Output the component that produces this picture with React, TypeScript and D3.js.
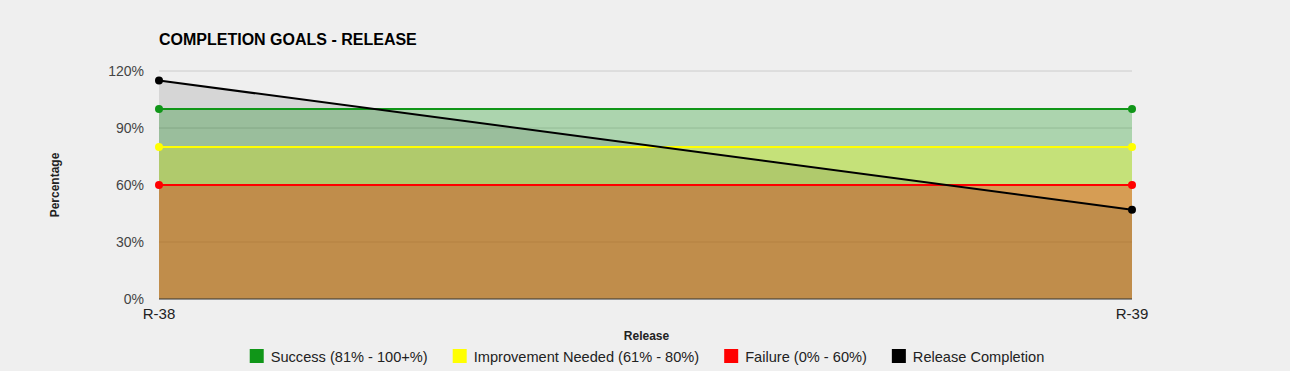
import React, { useRef, useEffect } from 'react';
import { select, scaleLinear, scalePoint, area, line } from 'd3';

const releases = ['R-38', 'R-39'];
const success = [100, 100];
const improvement = [80, 80];
const failure = [60, 60];
const completion = [115, 47];
const yTicks = [0, 30, 60, 90, 120];

const seriesNames = ['Success (81% - 100+%)', 'Improvement Needed (61% - 80%)', 'Failure (0% - 60%)', 'Release Completion'];
const seriesColors = ['#109618', '#ffff00', '#ff0000', '#000000'];
const seriesOpacity = [0.3, 0.3, 0.3, 0.1];

const W = 1290;
const H = 371;
const FONT = '"Liberation Sans", Arial, sans-serif';

function App() {
  const svgRef = useRef(null);

  useEffect(() => {
    document.body.style.margin = '0';
    document.body.style.background = '#efefef';

    const svg = select(svgRef.current);
    svg.selectAll('*').remove();

    const left = 159, right = 1132, top = 71, bottom = 299;

    const xScale = scalePoint().domain(releases).range([left, right]);
    const yScale = scaleLinear().domain([0, 120]).range([bottom, top]);

    // grid lines under everything
    svg.append('g')
      .selectAll('line')
      .data(yTicks.filter(t => t > 0))
      .join('line')
      .attr('x1', left).attr('x2', right)
      .attr('y1', d => yScale(d)).attr('y2', d => yScale(d))
      .attr('stroke', '#cccccc').attr('stroke-width', 1);

    const allSeries = [success, improvement, failure, completion];
    const rows = allSeries.map(vals => vals.map((v, i) => ({ x: releases[i], y: v })));

    const areaGen = area()
      .x(d => xScale(d.x))
      .y0(yScale(0))
      .y1(d => yScale(d.y));
    const lineGen = line()
      .x(d => xScale(d.x))
      .y(d => yScale(d.y));

    svg.append('g')
      .selectAll('path')
      .data(rows)
      .join('path')
      .attr('d', d => areaGen(d))
      .attr('fill', (d, i) => seriesColors[i])
      .attr('fill-opacity', (d, i) => seriesOpacity[i]);

    // baseline
    svg.append('line')
      .attr('x1', left).attr('x2', right)
      .attr('y1', yScale(0)).attr('y2', yScale(0))
      .attr('stroke', '#333333').attr('stroke-width', 1);

    rows.forEach((r, i) => {
      svg.append('path')
        .attr('d', lineGen(r))
        .attr('fill', 'none')
        .attr('stroke', seriesColors[i])
        .attr('stroke-width', 2);
    });
    rows.forEach((r, i) => {
      svg.append('g')
        .selectAll('circle')
        .data(r)
        .join('circle')
        .attr('cx', d => xScale(d.x))
        .attr('cy', d => yScale(d.y))
        .attr('r', 4)
        .attr('fill', seriesColors[i]);
    });

    // y tick labels
    svg.append('g')
      .selectAll('text')
      .data(yTicks)
      .join('text')
      .attr('x', left - 15)
      .attr('y', d => yScale(d))
      .attr('dy', '0.36em')
      .attr('text-anchor', 'end')
      .attr('font-family', FONT).attr('font-size', 14)
      .attr('fill', '#444444')
      .text(d => d + '%');

    // x tick labels
    svg.append('g')
      .selectAll('text')
      .data(releases)
      .join('text')
      .attr('x', d => xScale(d))
      .attr('y', 319)
      .attr('text-anchor', 'middle')
      .attr('font-family', FONT).attr('font-size', 15)
      .attr('fill', '#222222')
      .text(d => d);

    // title
    svg.append('text')
      .attr('x', left).attr('y', 45)
      .attr('font-family', FONT).attr('font-size', 16).attr('font-weight', 'bold')
      .attr('fill', '#000000')
      .text('COMPLETION GOALS - RELEASE');

    // axis titles
    svg.append('text')
      .attr('x', (left + right) / 2 + 1).attr('y', 340)
      .attr('text-anchor', 'middle')
      .attr('font-family', FONT).attr('font-size', 12).attr('font-weight', 'bold')
      .attr('fill', '#222222')
      .text('Release');

    svg.append('text')
      .attr('transform', `translate(59,${(top + bottom) / 2}) rotate(-90)`)
      .attr('text-anchor', 'middle')
      .attr('font-family', FONT).attr('font-size', 12).attr('font-weight', 'bold')
      .attr('fill', '#222222')
      .text('Percentage');

    // legend, measured then centred
    const legend = svg.append('g');
    const box = 14, gapText = 7, gapItem = 25;
    let cursor = 0;
    seriesNames.forEach((name, i) => {
      const g = legend.append('g');
      g.append('rect')
        .attr('x', cursor).attr('y', 349)
        .attr('width', box).attr('height', box)
        .attr('fill', seriesColors[i]);
      const t = g.append('text')
        .attr('x', cursor + box + gapText).attr('y', 361.5)
        .attr('font-family', FONT).attr('font-size', 14.6)
        .attr('fill', '#222222')
        .text(name);
      cursor += box + gapText + t.node().getComputedTextLength() + gapItem;
    });
    const total = cursor - gapItem;
    legend.attr('transform', `translate(${(left + right) / 2 - total / 2 + 1.5},0)`);
  }, []);

  return (
    <svg ref={svgRef} width={W} height={H} style={{ display: 'block', background: '#efefef' }} />
  );
}

export default App;
